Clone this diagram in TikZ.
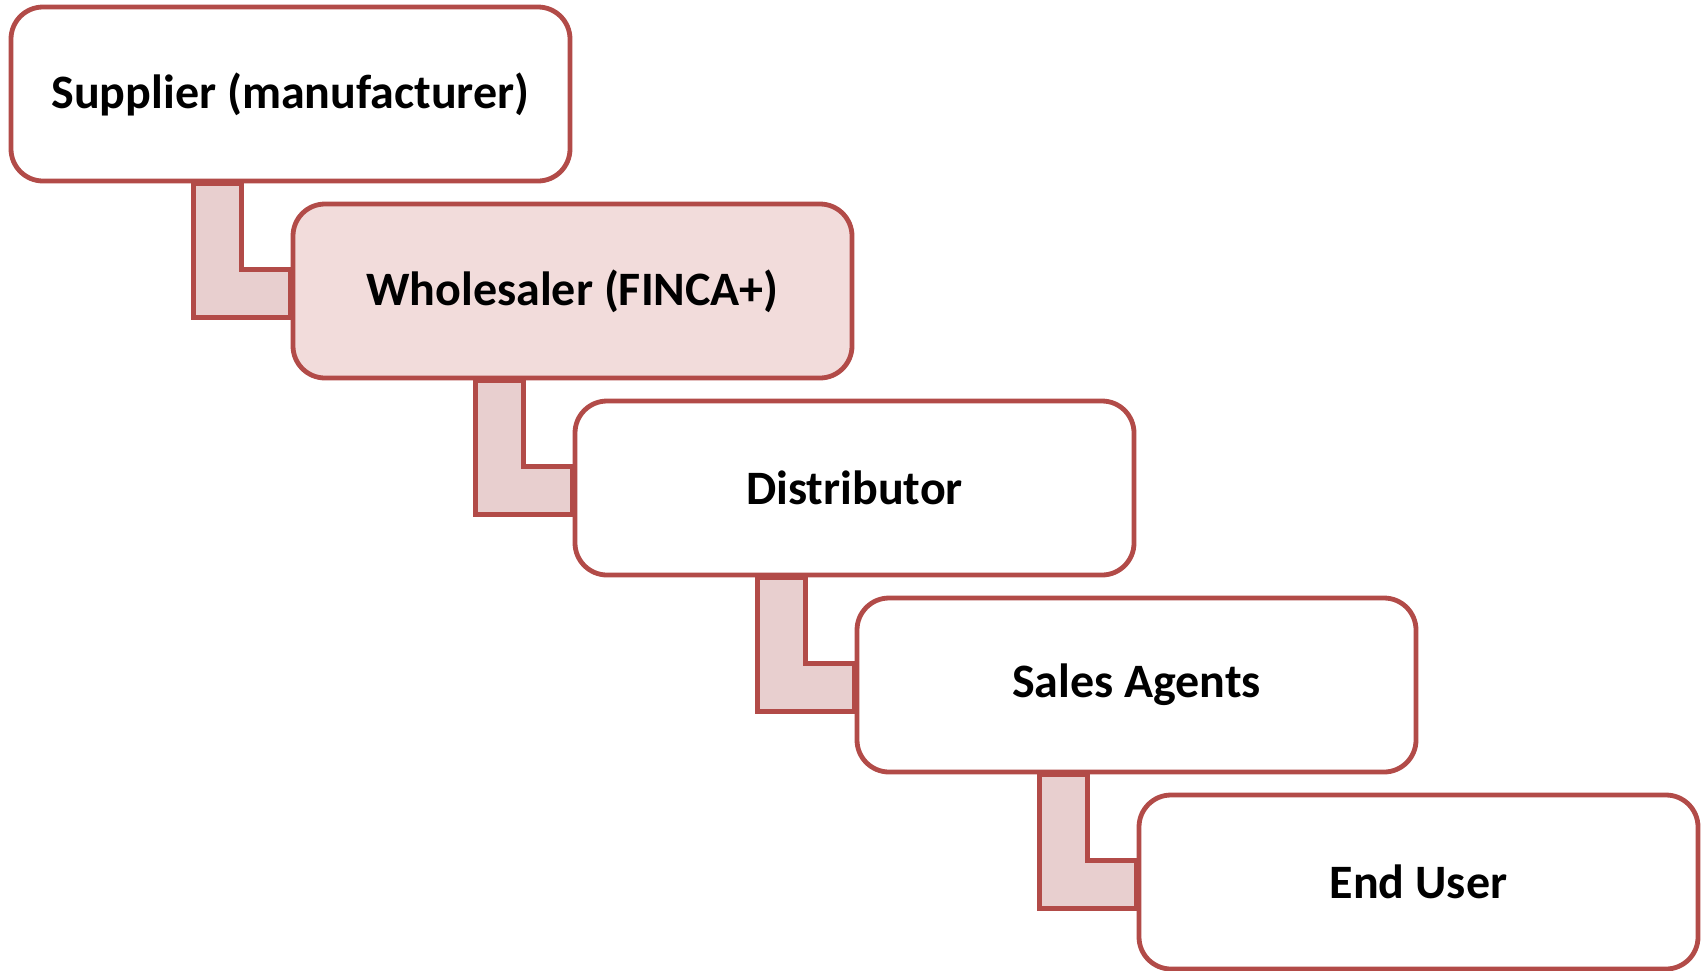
\documentclass[tikz,border=0pt]{standalone}
\usepackage{fontspec}
\setmainfont{Carlito}
\usetikzlibrary{calc,backgrounds}
\definecolor{edgered}{HTML}{B24B48}
\definecolor{pinkfill}{HTML}{F2DCDB}
\definecolor{linkfill}{HTML}{E8CFCF}
\begin{document}
\begin{tikzpicture}[x=0.5pt,y=-0.5pt,
  stagebox/.style={draw=edgered, line width=2.4pt, rounded corners=16pt, fill=white,
    minimum width=279.5pt, minimum height=87pt, inner sep=0pt,
    font=\fontsize{24}{28}\selectfont\bfseries},
  linkshape/.style={draw=edgered, line width=2.4pt, fill=linkfill}]
\useasboundingbox (0,0) rectangle (1701,970);
\node[stagebox] (s1) at (290.5,94) {Supplier (manufacturer)};
\node[stagebox, fill=pinkfill] (s2) at (572.5,291) {Wholesaler (FINCA+)};
\node[stagebox] (s3) at (854.5,488) {Distributor};
\node[stagebox] (s4) at (1136.5,685) {Sales Agents};
\node[stagebox] (s5) at (1418.5,882) {End User};
\begin{scope}[on background layer]
\foreach \a/\b in {s1/s2,s2/s3,s3/s4,s4/s5}{
  \coordinate (oT) at ($(\a.south west)+(185,0)$);
  \coordinate (iT) at ($(\a.south west)+(233,0)$);
  \coordinate (oR) at ($(\b.north west)+(0,116)$);
  \coordinate (iR) at ($(\b.north west)+(0,68)$);
  \draw[linkshape] (oT) -- (oT |- oR) -- (oR) -- (iR) -- (iT |- iR) -- (iT) -- cycle;
}
\end{scope}
\end{tikzpicture}
\end{document}
